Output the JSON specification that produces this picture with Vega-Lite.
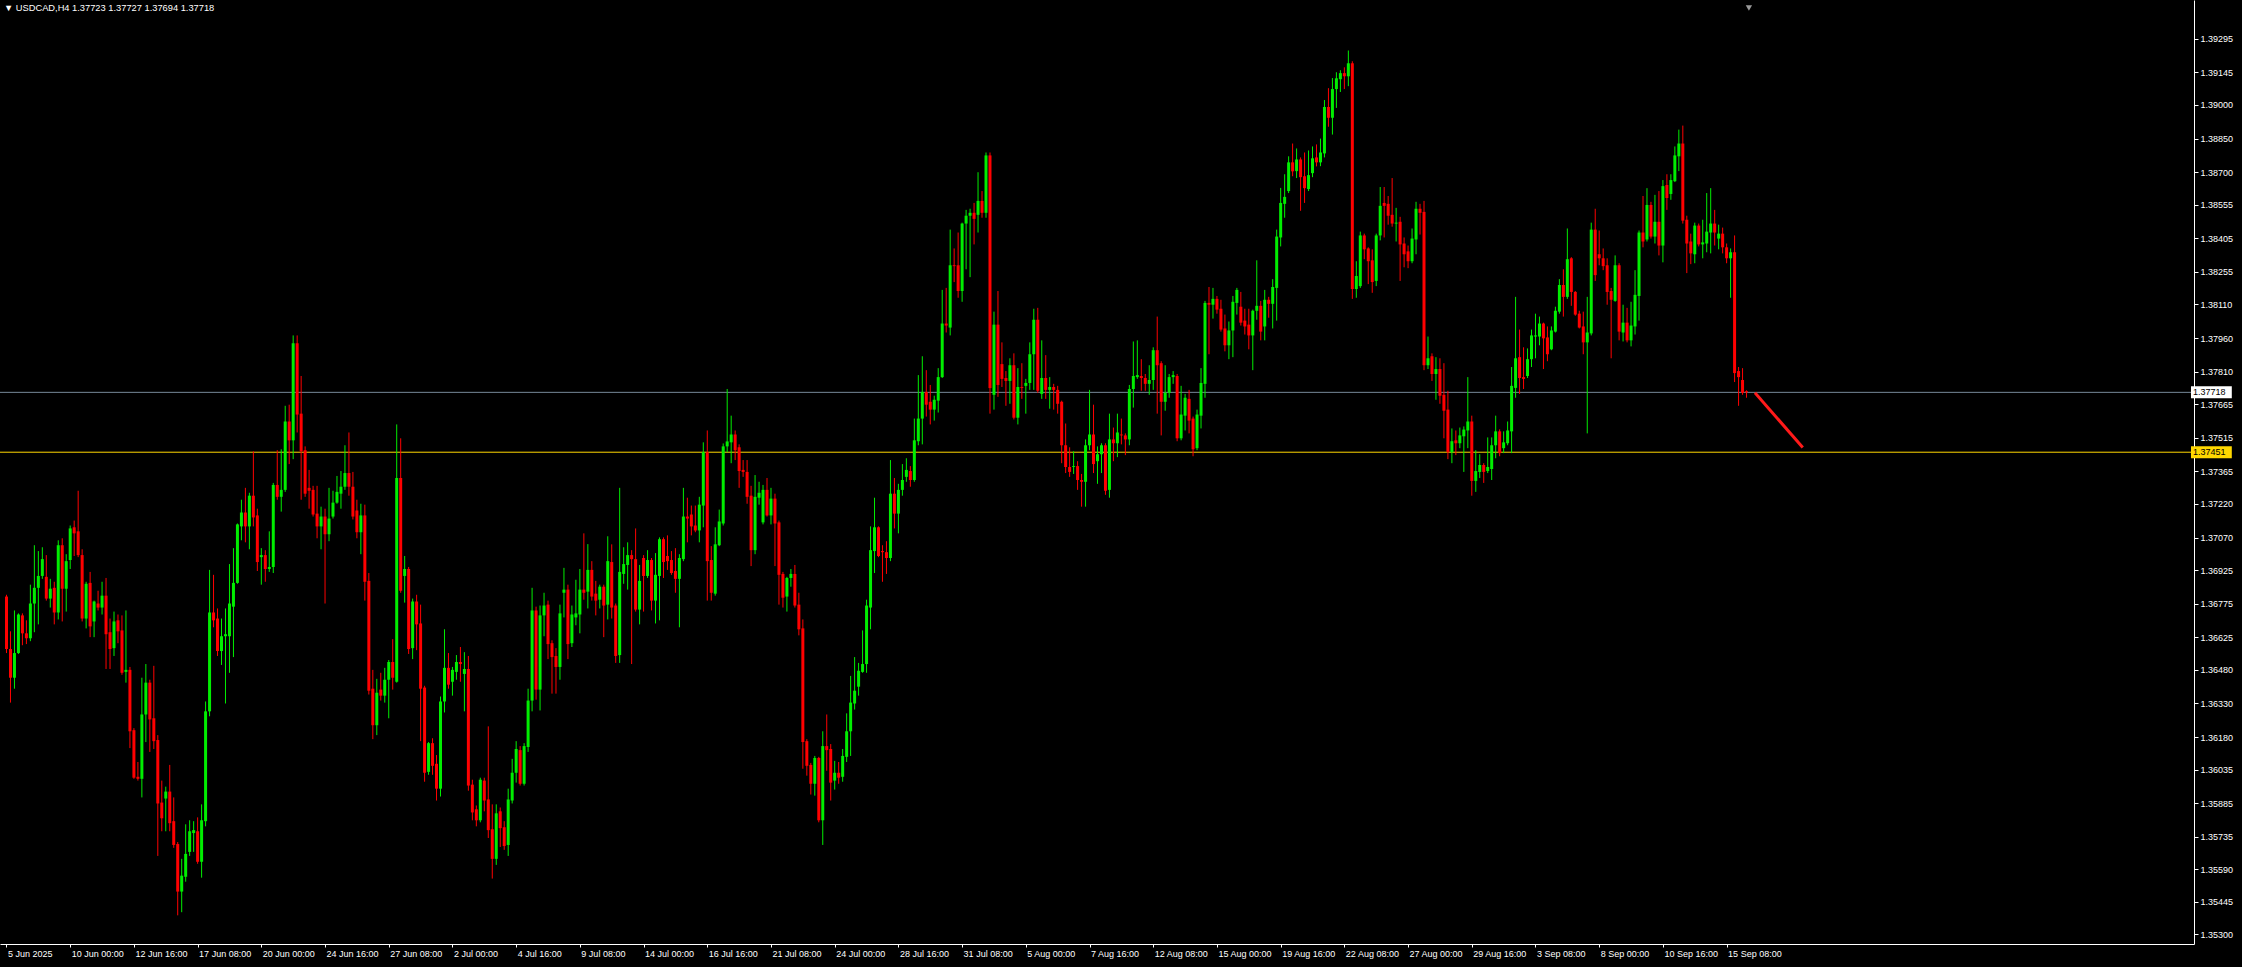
{
"$schema":"https://vega.github.io/schema/vega-lite/v6.json",
"width":2194,"height":944,
"autosize":{"type":"none"},
"padding":{"left":0,"top":0,"right":48,"bottom":23},
"background":"#000000",
"config":{"view":{"stroke":null},"font":"Liberation Sans","axis":{"labelOverlap":false,"labelFlush":false,"labelBound":false,"grid":false}},
"title":{"text":"▼ USDCAD,H4  1.37723 1.37727 1.37694 1.37718","anchor":"start","frame":"group","orient":"top","offset":-20,"baseline":"alphabetic","dx":4,"color":"#ffffff","font":"Liberation Sans","fontSize":9.3,"fontWeight":"normal"},
"datasets":{
"candles":[
{"i":0,"o":1.36807,"h":1.36815,"l":1.36555,"c":1.36573},
{"i":1,"o":1.36573,"h":1.36652,"l":1.36334,"c":1.36445},
{"i":2,"o":1.36445,"h":1.36745,"l":1.36396,"c":1.36555},
{"i":3,"o":1.36555,"h":1.36732,"l":1.36551,"c":1.36727},
{"i":4,"o":1.36723,"h":1.36732,"l":1.36590,"c":1.36643},
{"i":5,"o":1.36643,"h":1.36701,"l":1.36595,"c":1.36621},
{"i":6,"o":1.36621,"h":1.36860,"l":1.36608,"c":1.36776},
{"i":7,"o":1.36776,"h":1.37036,"l":1.36648,"c":1.36846},
{"i":8,"o":1.36846,"h":1.37010,"l":1.36683,"c":1.36899},
{"i":9,"o":1.36899,"h":1.37027,"l":1.36886,"c":1.36974},
{"i":10,"o":1.36895,"h":1.36992,"l":1.36789,"c":1.36798},
{"i":11,"o":1.36798,"h":1.36886,"l":1.36758,"c":1.36842},
{"i":12,"o":1.36846,"h":1.36873,"l":1.36683,"c":1.36736},
{"i":13,"o":1.36736,"h":1.37058,"l":1.36705,"c":1.37036},
{"i":14,"o":1.37036,"h":1.37067,"l":1.36696,"c":1.36842},
{"i":15,"o":1.36842,"h":1.36996,"l":1.36740,"c":1.36965},
{"i":16,"o":1.36970,"h":1.37124,"l":1.36930,"c":1.37111},
{"i":17,"o":1.37116,"h":1.37146,"l":1.36988,"c":1.37089},
{"i":18,"o":1.37098,"h":1.37279,"l":1.36983,"c":1.36992},
{"i":19,"o":1.36992,"h":1.37018,"l":1.36696,"c":1.36709},
{"i":20,"o":1.36709,"h":1.36873,"l":1.36665,"c":1.36864},
{"i":21,"o":1.36868,"h":1.36917,"l":1.36626,"c":1.36674},
{"i":22,"o":1.36696,"h":1.36789,"l":1.36626,"c":1.36785},
{"i":23,"o":1.36776,"h":1.36833,"l":1.36745,"c":1.36758},
{"i":24,"o":1.36758,"h":1.36873,"l":1.36727,"c":1.36811},
{"i":25,"o":1.36811,"h":1.36890,"l":1.36484,"c":1.36639},
{"i":26,"o":1.36648,"h":1.36709,"l":1.36484,"c":1.36573},
{"i":27,"o":1.36577,"h":1.36740,"l":1.36542,"c":1.36696},
{"i":28,"o":1.36701,"h":1.36727,"l":1.36599,"c":1.36652},
{"i":29,"o":1.36656,"h":1.36723,"l":1.36458,"c":1.36467},
{"i":30,"o":1.36471,"h":1.36745,"l":1.36423,"c":1.36480},
{"i":31,"o":1.36480,"h":1.36493,"l":1.36131,"c":1.36206},
{"i":32,"o":1.36211,"h":1.36220,"l":1.35994,"c":1.35999},
{"i":33,"o":1.36003,"h":1.36069,"l":1.35986,"c":1.35994},
{"i":34,"o":1.35994,"h":1.36445,"l":1.35911,"c":1.36281},
{"i":35,"o":1.36281,"h":1.36506,"l":1.36158,"c":1.36423},
{"i":36,"o":1.36423,"h":1.36436,"l":1.36114,"c":1.36259},
{"i":37,"o":1.36264,"h":1.36498,"l":1.36127,"c":1.36162},
{"i":38,"o":1.36167,"h":1.36189,"l":1.35650,"c":1.35884},
{"i":39,"o":1.35888,"h":1.35986,"l":1.35760,"c":1.35818},
{"i":40,"o":1.35906,"h":1.35959,"l":1.35760,"c":1.35937},
{"i":41,"o":1.35937,"h":1.36056,"l":1.35760,"c":1.35796},
{"i":42,"o":1.35805,"h":1.35911,"l":1.35686,"c":1.35699},
{"i":43,"o":1.35703,"h":1.35712,"l":1.35385,"c":1.35491},
{"i":44,"o":1.35491,"h":1.35637,"l":1.35399,"c":1.35562},
{"i":45,"o":1.35557,"h":1.35791,"l":1.35535,"c":1.35659},
{"i":46,"o":1.35668,"h":1.35809,"l":1.35650,"c":1.35760},
{"i":47,"o":1.35752,"h":1.35805,"l":1.35668,"c":1.35765},
{"i":48,"o":1.35760,"h":1.35822,"l":1.35615,"c":1.35624},
{"i":49,"o":1.35624,"h":1.35880,"l":1.35553,"c":1.35809},
{"i":50,"o":1.35805,"h":1.36339,"l":1.35782,"c":1.36295},
{"i":51,"o":1.36295,"h":1.36926,"l":1.36273,"c":1.36736},
{"i":52,"o":1.36736,"h":1.36904,"l":1.36670,"c":1.36701},
{"i":53,"o":1.36709,"h":1.36754,"l":1.36542,"c":1.36564},
{"i":54,"o":1.36564,"h":1.36709,"l":1.36502,"c":1.36630},
{"i":55,"o":1.36630,"h":1.36754,"l":1.36330,"c":1.36639},
{"i":56,"o":1.36630,"h":1.36952,"l":1.36467,"c":1.36776},
{"i":57,"o":1.36762,"h":1.37023,"l":1.36537,"c":1.36868},
{"i":58,"o":1.36868,"h":1.37133,"l":1.36864,"c":1.37129},
{"i":59,"o":1.37120,"h":1.37239,"l":1.37058,"c":1.37182},
{"i":60,"o":1.37182,"h":1.37292,"l":1.37049,"c":1.37120},
{"i":61,"o":1.37120,"h":1.37270,"l":1.37018,"c":1.37257},
{"i":62,"o":1.37257,"h":1.37455,"l":1.37120,"c":1.37160},
{"i":63,"o":1.37169,"h":1.37199,"l":1.36921,"c":1.36961},
{"i":64,"o":1.36983,"h":1.37023,"l":1.36860,"c":1.36992},
{"i":65,"o":1.36992,"h":1.37014,"l":1.36873,"c":1.36930},
{"i":66,"o":1.36930,"h":1.37098,"l":1.36917,"c":1.36939},
{"i":67,"o":1.36939,"h":1.37314,"l":1.36912,"c":1.37305},
{"i":68,"o":1.37305,"h":1.37460,"l":1.37239,"c":1.37252},
{"i":69,"o":1.37252,"h":1.37464,"l":1.37186,"c":1.37283},
{"i":70,"o":1.37283,"h":1.37658,"l":1.37274,"c":1.37588},
{"i":71,"o":1.37588,"h":1.37663,"l":1.37398,"c":1.37504},
{"i":72,"o":1.37504,"h":1.37972,"l":1.37420,"c":1.37937},
{"i":73,"o":1.37937,"h":1.37972,"l":1.37539,"c":1.37619},
{"i":74,"o":1.37623,"h":1.37791,"l":1.37239,"c":1.37455},
{"i":75,"o":1.37460,"h":1.37477,"l":1.37252,"c":1.37266},
{"i":76,"o":1.37292,"h":1.37372,"l":1.37199,"c":1.37279},
{"i":77,"o":1.37283,"h":1.37301,"l":1.37164,"c":1.37173},
{"i":78,"o":1.37177,"h":1.37301,"l":1.37067,"c":1.37120},
{"i":79,"o":1.37120,"h":1.37208,"l":1.37018,"c":1.37164},
{"i":80,"o":1.37164,"h":1.37199,"l":1.36776,"c":1.37085},
{"i":81,"o":1.37085,"h":1.37292,"l":1.37054,"c":1.37155},
{"i":82,"o":1.37164,"h":1.37279,"l":1.37155,"c":1.37226},
{"i":83,"o":1.37226,"h":1.37345,"l":1.37221,"c":1.37274},
{"i":84,"o":1.37266,"h":1.37367,"l":1.37199,"c":1.37297},
{"i":85,"o":1.37297,"h":1.37482,"l":1.37283,"c":1.37358},
{"i":86,"o":1.37358,"h":1.37539,"l":1.37257,"c":1.37297},
{"i":87,"o":1.37297,"h":1.37363,"l":1.37151,"c":1.37164},
{"i":88,"o":1.37191,"h":1.37239,"l":1.37067,"c":1.37094},
{"i":89,"o":1.37094,"h":1.37221,"l":1.36996,"c":1.37169},
{"i":90,"o":1.37169,"h":1.37217,"l":1.36789,"c":1.36873},
{"i":91,"o":1.36877,"h":1.36912,"l":1.36370,"c":1.36387},
{"i":92,"o":1.36396,"h":1.36480,"l":1.36171,"c":1.36233},
{"i":93,"o":1.36233,"h":1.36440,"l":1.36189,"c":1.36378},
{"i":94,"o":1.36392,"h":1.36467,"l":1.36343,"c":1.36365},
{"i":95,"o":1.36365,"h":1.36489,"l":1.36334,"c":1.36436},
{"i":96,"o":1.36436,"h":1.36524,"l":1.36264,"c":1.36515},
{"i":97,"o":1.36515,"h":1.36617,"l":1.36392,"c":1.36445},
{"i":98,"o":1.36427,"h":1.37575,"l":1.36423,"c":1.37336},
{"i":99,"o":1.37336,"h":1.37513,"l":1.36824,"c":1.36833},
{"i":100,"o":1.36899,"h":1.36988,"l":1.36780,"c":1.36930},
{"i":101,"o":1.36930,"h":1.36939,"l":1.36551,"c":1.36573},
{"i":102,"o":1.36577,"h":1.36798,"l":1.36528,"c":1.36785},
{"i":103,"o":1.36785,"h":1.36815,"l":1.36568,"c":1.36683},
{"i":104,"o":1.36687,"h":1.36771,"l":1.36162,"c":1.36396},
{"i":105,"o":1.36401,"h":1.36409,"l":1.35981,"c":1.36021},
{"i":106,"o":1.36025,"h":1.36158,"l":1.36012,"c":1.36153},
{"i":107,"o":1.36153,"h":1.36175,"l":1.36012,"c":1.36052},
{"i":108,"o":1.36061,"h":1.36100,"l":1.35897,"c":1.35950},
{"i":109,"o":1.35950,"h":1.36361,"l":1.35915,"c":1.36339},
{"i":110,"o":1.36339,"h":1.36661,"l":1.36290,"c":1.36489},
{"i":111,"o":1.36489,"h":1.36555,"l":1.36396,"c":1.36414},
{"i":112,"o":1.36427,"h":1.36493,"l":1.36365,"c":1.36480},
{"i":113,"o":1.36471,"h":1.36546,"l":1.36436,"c":1.36515},
{"i":114,"o":1.36515,"h":1.36582,"l":1.36427,"c":1.36506},
{"i":115,"o":1.36462,"h":1.36559,"l":1.36295,"c":1.36484},
{"i":116,"o":1.36484,"h":1.36542,"l":1.35941,"c":1.35964},
{"i":117,"o":1.35968,"h":1.35990,"l":1.35809,"c":1.35844},
{"i":118,"o":1.35858,"h":1.35875,"l":1.35782,"c":1.35809},
{"i":119,"o":1.35809,"h":1.35999,"l":1.35800,"c":1.35990},
{"i":120,"o":1.35986,"h":1.35999,"l":1.35849,"c":1.35897},
{"i":121,"o":1.35902,"h":1.36228,"l":1.35730,"c":1.35765},
{"i":122,"o":1.35769,"h":1.35880,"l":1.35549,"c":1.35637},
{"i":123,"o":1.35637,"h":1.35880,"l":1.35610,"c":1.35840},
{"i":124,"o":1.35849,"h":1.35866,"l":1.35690,"c":1.35774},
{"i":125,"o":1.35778,"h":1.35805,"l":1.35677,"c":1.35694},
{"i":126,"o":1.35699,"h":1.35950,"l":1.35650,"c":1.35902},
{"i":127,"o":1.35897,"h":1.36083,"l":1.35884,"c":1.36021},
{"i":128,"o":1.36021,"h":1.36162,"l":1.35977,"c":1.36127},
{"i":129,"o":1.36122,"h":1.36140,"l":1.35964,"c":1.35972},
{"i":130,"o":1.35972,"h":1.36153,"l":1.35964,"c":1.36140},
{"i":131,"o":1.36136,"h":1.36396,"l":1.36114,"c":1.36343},
{"i":132,"o":1.36343,"h":1.36846,"l":1.36295,"c":1.36745},
{"i":133,"o":1.36745,"h":1.36762,"l":1.36347,"c":1.36392},
{"i":134,"o":1.36392,"h":1.36767,"l":1.36299,"c":1.36723},
{"i":135,"o":1.36723,"h":1.36824,"l":1.36630,"c":1.36767},
{"i":136,"o":1.36771,"h":1.36789,"l":1.36528,"c":1.36595},
{"i":137,"o":1.36599,"h":1.36612,"l":1.36374,"c":1.36537},
{"i":138,"o":1.36542,"h":1.36577,"l":1.36374,"c":1.36493},
{"i":139,"o":1.36493,"h":1.36771,"l":1.36436,"c":1.36732},
{"i":140,"o":1.36824,"h":1.36935,"l":1.36714,"c":1.36838},
{"i":141,"o":1.36838,"h":1.36860,"l":1.36528,"c":1.36595},
{"i":142,"o":1.36599,"h":1.36767,"l":1.36582,"c":1.36727},
{"i":143,"o":1.36714,"h":1.36882,"l":1.36679,"c":1.36732},
{"i":144,"o":1.36727,"h":1.36930,"l":1.36643,"c":1.36838},
{"i":145,"o":1.36838,"h":1.37089,"l":1.36793,"c":1.36824},
{"i":146,"o":1.36829,"h":1.37041,"l":1.36754,"c":1.36926},
{"i":147,"o":1.36926,"h":1.36965,"l":1.36789,"c":1.36807},
{"i":148,"o":1.36820,"h":1.36877,"l":1.36723,"c":1.36789},
{"i":149,"o":1.36793,"h":1.36860,"l":1.36754,"c":1.36851},
{"i":150,"o":1.36851,"h":1.36860,"l":1.36626,"c":1.36767},
{"i":151,"o":1.36771,"h":1.37076,"l":1.36705,"c":1.36965},
{"i":152,"o":1.36961,"h":1.37040,"l":1.36709,"c":1.36758},
{"i":153,"o":1.36767,"h":1.36776,"l":1.36511,"c":1.36542},
{"i":154,"o":1.36546,"h":1.37292,"l":1.36511,"c":1.36917},
{"i":155,"o":1.36908,"h":1.37027,"l":1.36864,"c":1.36952},
{"i":156,"o":1.36948,"h":1.37049,"l":1.36838,"c":1.36992},
{"i":157,"o":1.36992,"h":1.37014,"l":1.36506,"c":1.36974},
{"i":158,"o":1.36974,"h":1.37111,"l":1.36740,"c":1.36749},
{"i":159,"o":1.36749,"h":1.36948,"l":1.36683,"c":1.36877},
{"i":160,"o":1.36979,"h":1.36992,"l":1.36740,"c":1.36899},
{"i":161,"o":1.36899,"h":1.37014,"l":1.36890,"c":1.36970},
{"i":162,"o":1.36970,"h":1.36979,"l":1.36745,"c":1.36789},
{"i":163,"o":1.36789,"h":1.37001,"l":1.36687,"c":1.36904},
{"i":164,"o":1.36899,"h":1.37071,"l":1.36701,"c":1.37063},
{"i":165,"o":1.37063,"h":1.37071,"l":1.36890,"c":1.36961},
{"i":166,"o":1.36988,"h":1.37080,"l":1.36926,"c":1.36965},
{"i":167,"o":1.36970,"h":1.37010,"l":1.36904,"c":1.36912},
{"i":168,"o":1.36921,"h":1.37023,"l":1.36824,"c":1.36886},
{"i":169,"o":1.36886,"h":1.36996,"l":1.36670,"c":1.36979},
{"i":170,"o":1.36974,"h":1.37292,"l":1.36965,"c":1.37164},
{"i":171,"o":1.37164,"h":1.37248,"l":1.37049,"c":1.37155},
{"i":172,"o":1.37173,"h":1.37213,"l":1.37080,"c":1.37120},
{"i":173,"o":1.37124,"h":1.37213,"l":1.37094,"c":1.37102},
{"i":174,"o":1.37102,"h":1.37252,"l":1.37049,"c":1.37217},
{"i":175,"o":1.37213,"h":1.37495,"l":1.37116,"c":1.37451},
{"i":176,"o":1.37451,"h":1.37548,"l":1.36789,"c":1.36965},
{"i":177,"o":1.36970,"h":1.37032,"l":1.36789,"c":1.36824},
{"i":178,"o":1.36820,"h":1.37116,"l":1.36811,"c":1.37040},
{"i":179,"o":1.37036,"h":1.37195,"l":1.37032,"c":1.37142},
{"i":180,"o":1.37133,"h":1.37490,"l":1.37124,"c":1.37477},
{"i":181,"o":1.37477,"h":1.37733,"l":1.37451,"c":1.37499},
{"i":182,"o":1.37495,"h":1.37614,"l":1.37402,"c":1.37530},
{"i":183,"o":1.37530,"h":1.37548,"l":1.37416,"c":1.37460},
{"i":184,"o":1.37473,"h":1.37486,"l":1.37292,"c":1.37367},
{"i":185,"o":1.37372,"h":1.37416,"l":1.37341,"c":1.37363},
{"i":186,"o":1.37363,"h":1.37416,"l":1.37221,"c":1.37252},
{"i":187,"o":1.37257,"h":1.37301,"l":1.36943,"c":1.37014},
{"i":188,"o":1.37014,"h":1.37349,"l":1.36996,"c":1.37252},
{"i":189,"o":1.37248,"h":1.37319,"l":1.37217,"c":1.37270},
{"i":190,"o":1.37138,"h":1.37305,"l":1.37129,"c":1.37283},
{"i":191,"o":1.37283,"h":1.37336,"l":1.37164,"c":1.37169},
{"i":192,"o":1.37169,"h":1.37292,"l":1.37129,"c":1.37244},
{"i":193,"o":1.37244,"h":1.37266,"l":1.36943,"c":1.37133},
{"i":194,"o":1.37138,"h":1.37146,"l":1.36771,"c":1.36904},
{"i":195,"o":1.36908,"h":1.36917,"l":1.36758,"c":1.36802},
{"i":196,"o":1.36807,"h":1.36895,"l":1.36740,"c":1.36890},
{"i":197,"o":1.36890,"h":1.36930,"l":1.36851,"c":1.36908},
{"i":198,"o":1.36908,"h":1.36948,"l":1.36758,"c":1.36767},
{"i":199,"o":1.36771,"h":1.36824,"l":1.36634,"c":1.36661},
{"i":200,"o":1.36665,"h":1.36705,"l":1.36039,"c":1.36158},
{"i":201,"o":1.36162,"h":1.36171,"l":1.36008,"c":1.36052},
{"i":202,"o":1.36056,"h":1.36065,"l":1.35924,"c":1.35972},
{"i":203,"o":1.35972,"h":1.36096,"l":1.35919,"c":1.36087},
{"i":204,"o":1.36087,"h":1.36092,"l":1.35800,"c":1.35809},
{"i":205,"o":1.35809,"h":1.36206,"l":1.35699,"c":1.36140},
{"i":206,"o":1.36140,"h":1.36281,"l":1.36030,"c":1.36122},
{"i":207,"o":1.36127,"h":1.36149,"l":1.35897,"c":1.35977},
{"i":208,"o":1.35986,"h":1.36074,"l":1.35946,"c":1.36021},
{"i":209,"o":1.36021,"h":1.36069,"l":1.35972,"c":1.35999},
{"i":210,"o":1.36003,"h":1.36127,"l":1.35981,"c":1.36096},
{"i":211,"o":1.36092,"h":1.36286,"l":1.36069,"c":1.36206},
{"i":212,"o":1.36206,"h":1.36453,"l":1.36096,"c":1.36334},
{"i":213,"o":1.36330,"h":1.36537,"l":1.36303,"c":1.36387},
{"i":214,"o":1.36405,"h":1.36511,"l":1.36365,"c":1.36476},
{"i":215,"o":1.36471,"h":1.36656,"l":1.36467,"c":1.36506},
{"i":216,"o":1.36506,"h":1.36793,"l":1.36467,"c":1.36767},
{"i":217,"o":1.36758,"h":1.37120,"l":1.36661,"c":1.37014},
{"i":218,"o":1.37010,"h":1.37248,"l":1.36912,"c":1.37116},
{"i":219,"o":1.37116,"h":1.37120,"l":1.36983,"c":1.36988},
{"i":220,"o":1.37010,"h":1.37036,"l":1.36873,"c":1.37005},
{"i":221,"o":1.37005,"h":1.37054,"l":1.36908,"c":1.36979},
{"i":222,"o":1.36979,"h":1.37416,"l":1.36965,"c":1.37266},
{"i":223,"o":1.37266,"h":1.37336,"l":1.37111,"c":1.37177},
{"i":224,"o":1.37177,"h":1.37310,"l":1.37089,"c":1.37283},
{"i":225,"o":1.37283,"h":1.37398,"l":1.37257,"c":1.37327},
{"i":226,"o":1.37341,"h":1.37424,"l":1.37319,"c":1.37372},
{"i":227,"o":1.37367,"h":1.37389,"l":1.37297,"c":1.37327},
{"i":228,"o":1.37327,"h":1.37601,"l":1.37319,"c":1.37504},
{"i":229,"o":1.37500,"h":1.37795,"l":1.37482,"c":1.37601},
{"i":230,"o":1.37601,"h":1.37879,"l":1.37486,"c":1.37720},
{"i":231,"o":1.37720,"h":1.37817,"l":1.37610,"c":1.37663},
{"i":232,"o":1.37676,"h":1.37751,"l":1.37575,"c":1.37641},
{"i":233,"o":1.37641,"h":1.37703,"l":1.37592,"c":1.37685},
{"i":234,"o":1.37681,"h":1.37826,"l":1.37628,"c":1.37786},
{"i":235,"o":1.37786,"h":1.38175,"l":1.37782,"c":1.38025},
{"i":236,"o":1.38025,"h":1.38184,"l":1.37985,"c":1.38016},
{"i":237,"o":1.38007,"h":1.38444,"l":1.37972,"c":1.38285},
{"i":238,"o":1.38285,"h":1.38360,"l":1.38210,"c":1.38281},
{"i":239,"o":1.38285,"h":1.38431,"l":1.38140,"c":1.38170},
{"i":240,"o":1.38170,"h":1.38475,"l":1.38122,"c":1.38471},
{"i":241,"o":1.38471,"h":1.38532,"l":1.38267,"c":1.38506},
{"i":242,"o":1.38506,"h":1.38537,"l":1.38232,"c":1.38519},
{"i":243,"o":1.38519,"h":1.38563,"l":1.38378,"c":1.38492},
{"i":244,"o":1.38510,"h":1.38700,"l":1.38431,"c":1.38572},
{"i":245,"o":1.38572,"h":1.38616,"l":1.38497,"c":1.38519},
{"i":246,"o":1.38519,"h":1.38788,"l":1.38497,"c":1.38775},
{"i":247,"o":1.38775,"h":1.38788,"l":1.37623,"c":1.37737},
{"i":248,"o":1.37707,"h":1.38078,"l":1.37641,"c":1.38020},
{"i":249,"o":1.38020,"h":1.38170,"l":1.37698,"c":1.37751},
{"i":250,"o":1.37844,"h":1.37941,"l":1.37742,"c":1.37778},
{"i":251,"o":1.37782,"h":1.37813,"l":1.37658,"c":1.37769},
{"i":252,"o":1.37769,"h":1.37870,"l":1.37667,"c":1.37839},
{"i":253,"o":1.37839,"h":1.37892,"l":1.37597,"c":1.37605},
{"i":254,"o":1.37605,"h":1.37826,"l":1.37575,"c":1.37742},
{"i":255,"o":1.37742,"h":1.37848,"l":1.37689,"c":1.37738},
{"i":256,"o":1.37747,"h":1.37778,"l":1.37623,"c":1.37760},
{"i":257,"o":1.37760,"h":1.37941,"l":1.37729,"c":1.37888},
{"i":258,"o":1.37888,"h":1.38091,"l":1.37729,"c":1.38042},
{"i":259,"o":1.38042,"h":1.38095,"l":1.37716,"c":1.37725},
{"i":260,"o":1.37711,"h":1.37950,"l":1.37689,"c":1.37782},
{"i":261,"o":1.37782,"h":1.37884,"l":1.37689,"c":1.37729},
{"i":262,"o":1.37729,"h":1.37786,"l":1.37645,"c":1.37742},
{"i":263,"o":1.37742,"h":1.37756,"l":1.37641,"c":1.37729},
{"i":264,"o":1.37729,"h":1.37747,"l":1.37623,"c":1.37667},
{"i":265,"o":1.37676,"h":1.37681,"l":1.37402,"c":1.37482},
{"i":266,"o":1.37482,"h":1.37579,"l":1.37358,"c":1.37385},
{"i":267,"o":1.37385,"h":1.37473,"l":1.37341,"c":1.37363},
{"i":268,"o":1.37385,"h":1.37455,"l":1.37354,"c":1.37389},
{"i":269,"o":1.37389,"h":1.37411,"l":1.37283,"c":1.37327},
{"i":270,"o":1.37327,"h":1.37354,"l":1.37208,"c":1.37319},
{"i":271,"o":1.37319,"h":1.37508,"l":1.37208,"c":1.37482},
{"i":272,"o":1.37482,"h":1.37729,"l":1.37460,"c":1.37530},
{"i":273,"o":1.37530,"h":1.37663,"l":1.37358,"c":1.37398},
{"i":274,"o":1.37411,"h":1.37477,"l":1.37310,"c":1.37442},
{"i":275,"o":1.37442,"h":1.37491,"l":1.37358,"c":1.37482},
{"i":276,"o":1.37482,"h":1.37491,"l":1.37261,"c":1.37279},
{"i":277,"o":1.37283,"h":1.37623,"l":1.37248,"c":1.37508},
{"i":278,"o":1.37508,"h":1.37561,"l":1.37411,"c":1.37491},
{"i":279,"o":1.37491,"h":1.37623,"l":1.37429,"c":1.37539},
{"i":280,"o":1.37530,"h":1.37601,"l":1.37486,"c":1.37526},
{"i":281,"o":1.37526,"h":1.37535,"l":1.37438,"c":1.37508},
{"i":282,"o":1.37508,"h":1.37751,"l":1.37482,"c":1.37733},
{"i":283,"o":1.37733,"h":1.37945,"l":1.37650,"c":1.37791},
{"i":284,"o":1.37786,"h":1.37950,"l":1.37778,"c":1.37795},
{"i":285,"o":1.37791,"h":1.37866,"l":1.37725,"c":1.37782},
{"i":286,"o":1.37782,"h":1.37800,"l":1.37725,"c":1.37756},
{"i":287,"o":1.37756,"h":1.37839,"l":1.37707,"c":1.37773},
{"i":288,"o":1.37773,"h":1.37919,"l":1.37729,"c":1.37906},
{"i":289,"o":1.37906,"h":1.38056,"l":1.37623,"c":1.37839},
{"i":290,"o":1.37848,"h":1.37857,"l":1.37526,"c":1.37676},
{"i":291,"o":1.37676,"h":1.37839,"l":1.37636,"c":1.37716},
{"i":292,"o":1.37716,"h":1.37800,"l":1.37694,"c":1.37786},
{"i":293,"o":1.37786,"h":1.37813,"l":1.37756,"c":1.37795},
{"i":294,"o":1.37791,"h":1.37800,"l":1.37500,"c":1.37513},
{"i":295,"o":1.37513,"h":1.37747,"l":1.37504,"c":1.37619},
{"i":296,"o":1.37614,"h":1.37711,"l":1.37548,"c":1.37694},
{"i":297,"o":1.37689,"h":1.37729,"l":1.37535,"c":1.37592},
{"i":298,"o":1.37601,"h":1.37610,"l":1.37433,"c":1.37464},
{"i":299,"o":1.37469,"h":1.37641,"l":1.37460,"c":1.37619},
{"i":300,"o":1.37614,"h":1.37826,"l":1.37557,"c":1.37760},
{"i":301,"o":1.37756,"h":1.38126,"l":1.37694,"c":1.38117},
{"i":302,"o":1.38117,"h":1.38188,"l":1.37888,"c":1.38109},
{"i":303,"o":1.38109,"h":1.38184,"l":1.38047,"c":1.38135},
{"i":304,"o":1.38135,"h":1.38148,"l":1.38069,"c":1.38087},
{"i":305,"o":1.38091,"h":1.38131,"l":1.37989,"c":1.37998},
{"i":306,"o":1.38003,"h":1.38065,"l":1.37901,"c":1.37928},
{"i":307,"o":1.37928,"h":1.38034,"l":1.37866,"c":1.37994},
{"i":308,"o":1.37994,"h":1.38148,"l":1.37875,"c":1.38122},
{"i":309,"o":1.38117,"h":1.38184,"l":1.38065,"c":1.38175},
{"i":310,"o":1.38100,"h":1.38166,"l":1.38016,"c":1.38029},
{"i":311,"o":1.38038,"h":1.38091,"l":1.37976,"c":1.38012},
{"i":312,"o":1.38020,"h":1.38091,"l":1.37910,"c":1.37972},
{"i":313,"o":1.37972,"h":1.38087,"l":1.37817,"c":1.38082},
{"i":314,"o":1.38082,"h":1.38307,"l":1.38042,"c":1.38104},
{"i":315,"o":1.38104,"h":1.38126,"l":1.37950,"c":1.37989},
{"i":316,"o":1.38012,"h":1.38175,"l":1.37950,"c":1.38131},
{"i":317,"o":1.38131,"h":1.38144,"l":1.38051,"c":1.38113},
{"i":318,"o":1.38113,"h":1.38223,"l":1.38003,"c":1.38188},
{"i":319,"o":1.38184,"h":1.38444,"l":1.38038,"c":1.38413},
{"i":320,"o":1.38409,"h":1.38630,"l":1.38369,"c":1.38563},
{"i":321,"o":1.38559,"h":1.38691,"l":1.38497,"c":1.38590},
{"i":322,"o":1.38616,"h":1.38771,"l":1.38607,"c":1.38744},
{"i":323,"o":1.38744,"h":1.38828,"l":1.38682,"c":1.38704},
{"i":324,"o":1.38705,"h":1.38806,"l":1.38674,"c":1.38757},
{"i":325,"o":1.38757,"h":1.38766,"l":1.38528,"c":1.38678},
{"i":326,"o":1.38682,"h":1.38788,"l":1.38563,"c":1.38629},
{"i":327,"o":1.38625,"h":1.38797,"l":1.38616,"c":1.38687},
{"i":328,"o":1.38696,"h":1.38815,"l":1.38678,"c":1.38762},
{"i":329,"o":1.38766,"h":1.38824,"l":1.38726,"c":1.38744},
{"i":330,"o":1.38744,"h":1.38850,"l":1.38727,"c":1.38788},
{"i":331,"o":1.38784,"h":1.39022,"l":1.38766,"c":1.38991},
{"i":332,"o":1.38991,"h":1.39075,"l":1.38903,"c":1.38943},
{"i":333,"o":1.38943,"h":1.39120,"l":1.38868,"c":1.39071},
{"i":334,"o":1.39071,"h":1.39146,"l":1.38987,"c":1.39119},
{"i":335,"o":1.39115,"h":1.39155,"l":1.39058,"c":1.39142},
{"i":336,"o":1.39142,"h":1.39168,"l":1.39071,"c":1.39128},
{"i":337,"o":1.39128,"h":1.39243,"l":1.39084,"c":1.39186},
{"i":338,"o":1.39186,"h":1.39195,"l":1.38135,"c":1.38179},
{"i":339,"o":1.38179,"h":1.38303,"l":1.38140,"c":1.38237},
{"i":340,"o":1.38192,"h":1.38435,"l":1.38184,"c":1.38418},
{"i":341,"o":1.38418,"h":1.38426,"l":1.38312,"c":1.38356},
{"i":342,"o":1.38360,"h":1.38365,"l":1.38201,"c":1.38303},
{"i":343,"o":1.38307,"h":1.38356,"l":1.38162,"c":1.38210},
{"i":344,"o":1.38215,"h":1.38426,"l":1.38192,"c":1.38418},
{"i":345,"o":1.38418,"h":1.38634,"l":1.38396,"c":1.38550},
{"i":346,"o":1.38563,"h":1.38634,"l":1.38409,"c":1.38550},
{"i":347,"o":1.38559,"h":1.38594,"l":1.38466,"c":1.38506},
{"i":348,"o":1.38510,"h":1.38674,"l":1.38457,"c":1.38471},
{"i":349,"o":1.38471,"h":1.38541,"l":1.38391,"c":1.38475},
{"i":350,"o":1.38479,"h":1.38501,"l":1.38215,"c":1.38378},
{"i":351,"o":1.38382,"h":1.38409,"l":1.38276,"c":1.38334},
{"i":352,"o":1.38347,"h":1.38373,"l":1.38272,"c":1.38303},
{"i":353,"o":1.38303,"h":1.38449,"l":1.38294,"c":1.38404},
{"i":354,"o":1.38400,"h":1.38568,"l":1.38334,"c":1.38537},
{"i":355,"o":1.38537,"h":1.38559,"l":1.38422,"c":1.38519},
{"i":356,"o":1.38523,"h":1.38572,"l":1.37817,"c":1.37839},
{"i":357,"o":1.37839,"h":1.37967,"l":1.37822,"c":1.37870},
{"i":358,"o":1.37879,"h":1.37892,"l":1.37769,"c":1.37800},
{"i":359,"o":1.37800,"h":1.37875,"l":1.37685,"c":1.37822},
{"i":360,"o":1.37822,"h":1.37870,"l":1.37667,"c":1.37703},
{"i":361,"o":1.37707,"h":1.37848,"l":1.37513,"c":1.37636},
{"i":362,"o":1.37641,"h":1.37725,"l":1.37420,"c":1.37451},
{"i":363,"o":1.37451,"h":1.37557,"l":1.37402,"c":1.37500},
{"i":364,"o":1.37504,"h":1.37548,"l":1.37438,"c":1.37491},
{"i":365,"o":1.37491,"h":1.37561,"l":1.37469,"c":1.37526},
{"i":366,"o":1.37522,"h":1.37566,"l":1.37363,"c":1.37552},
{"i":367,"o":1.37548,"h":1.37786,"l":1.37469,"c":1.37588},
{"i":368,"o":1.37588,"h":1.37614,"l":1.37257,"c":1.37323},
{"i":369,"o":1.37323,"h":1.37460,"l":1.37274,"c":1.37367},
{"i":370,"o":1.37363,"h":1.37442,"l":1.37336,"c":1.37394},
{"i":371,"o":1.37394,"h":1.37402,"l":1.37314,"c":1.37363},
{"i":372,"o":1.37367,"h":1.37517,"l":1.37358,"c":1.37385},
{"i":373,"o":1.37376,"h":1.37517,"l":1.37327,"c":1.37482},
{"i":374,"o":1.37482,"h":1.37614,"l":1.37424,"c":1.37544},
{"i":375,"o":1.37544,"h":1.37553,"l":1.37433,"c":1.37447},
{"i":376,"o":1.37469,"h":1.37544,"l":1.37447,"c":1.37495},
{"i":377,"o":1.37491,"h":1.37588,"l":1.37482,"c":1.37548},
{"i":378,"o":1.37544,"h":1.37831,"l":1.37447,"c":1.37747},
{"i":379,"o":1.37738,"h":1.38144,"l":1.37694,"c":1.37870},
{"i":380,"o":1.37875,"h":1.37998,"l":1.37711,"c":1.37782},
{"i":381,"o":1.37786,"h":1.37919,"l":1.37733,"c":1.37778},
{"i":382,"o":1.37791,"h":1.37914,"l":1.37782,"c":1.37866},
{"i":383,"o":1.37866,"h":1.37998,"l":1.37831,"c":1.37972},
{"i":384,"o":1.37967,"h":1.38069,"l":1.37870,"c":1.37972},
{"i":385,"o":1.37967,"h":1.38056,"l":1.37928,"c":1.38025},
{"i":386,"o":1.38025,"h":1.38029,"l":1.37822,"c":1.37959},
{"i":387,"o":1.37963,"h":1.38012,"l":1.37857,"c":1.37888},
{"i":388,"o":1.37910,"h":1.38012,"l":1.37906,"c":1.37994},
{"i":389,"o":1.37989,"h":1.38100,"l":1.37985,"c":1.38082},
{"i":390,"o":1.38078,"h":1.38223,"l":1.38069,"c":1.38197},
{"i":391,"o":1.38197,"h":1.38267,"l":1.38056,"c":1.38144},
{"i":392,"o":1.38144,"h":1.38449,"l":1.38135,"c":1.38312},
{"i":393,"o":1.38316,"h":1.38321,"l":1.38104,"c":1.38166},
{"i":394,"o":1.38166,"h":1.38170,"l":1.38060,"c":1.38065},
{"i":395,"o":1.38069,"h":1.38082,"l":1.38003,"c":1.38007},
{"i":396,"o":1.38012,"h":1.38078,"l":1.37888,"c":1.37941},
{"i":397,"o":1.37941,"h":1.38144,"l":1.37535,"c":1.37985},
{"i":398,"o":1.37981,"h":1.38475,"l":1.37972,"c":1.38444},
{"i":399,"o":1.38444,"h":1.38537,"l":1.38215,"c":1.38241},
{"i":400,"o":1.38334,"h":1.38440,"l":1.38285,"c":1.38316},
{"i":401,"o":1.38316,"h":1.38360,"l":1.38263,"c":1.38281},
{"i":402,"o":1.38285,"h":1.38316,"l":1.38109,"c":1.38166},
{"i":403,"o":1.38170,"h":1.38184,"l":1.37870,"c":1.38131},
{"i":404,"o":1.38126,"h":1.38329,"l":1.38122,"c":1.38285},
{"i":405,"o":1.38285,"h":1.38294,"l":1.37950,"c":1.37989},
{"i":406,"o":1.37985,"h":1.38109,"l":1.37945,"c":1.38029},
{"i":407,"o":1.38029,"h":1.38095,"l":1.37941,"c":1.37950},
{"i":408,"o":1.37950,"h":1.38122,"l":1.37923,"c":1.38016},
{"i":409,"o":1.38012,"h":1.38263,"l":1.37976,"c":1.38153},
{"i":410,"o":1.38148,"h":1.38440,"l":1.38038,"c":1.38431},
{"i":411,"o":1.38431,"h":1.38594,"l":1.38365,"c":1.38391},
{"i":412,"o":1.38400,"h":1.38629,"l":1.38391,"c":1.38554},
{"i":413,"o":1.38554,"h":1.38568,"l":1.38404,"c":1.38413},
{"i":414,"o":1.38413,"h":1.38599,"l":1.38382,"c":1.38479},
{"i":415,"o":1.38479,"h":1.38616,"l":1.38329,"c":1.38373},
{"i":416,"o":1.38373,"h":1.38665,"l":1.38298,"c":1.38638},
{"i":417,"o":1.38643,"h":1.38691,"l":1.38532,"c":1.38585},
{"i":418,"o":1.38603,"h":1.38691,"l":1.38577,"c":1.38665},
{"i":419,"o":1.38660,"h":1.38815,"l":1.38656,"c":1.38775},
{"i":420,"o":1.38771,"h":1.38890,"l":1.38705,"c":1.38828},
{"i":421,"o":1.38828,"h":1.38908,"l":1.38471,"c":1.38484},
{"i":422,"o":1.38488,"h":1.38506,"l":1.38250,"c":1.38382},
{"i":423,"o":1.38391,"h":1.38426,"l":1.38290,"c":1.38338},
{"i":424,"o":1.38334,"h":1.38475,"l":1.38294,"c":1.38462},
{"i":425,"o":1.38462,"h":1.38471,"l":1.38369,"c":1.38378},
{"i":426,"o":1.38378,"h":1.38488,"l":1.38316,"c":1.38387},
{"i":427,"o":1.38382,"h":1.38607,"l":1.38343,"c":1.38435},
{"i":428,"o":1.38431,"h":1.38629,"l":1.38338,"c":1.38471},
{"i":429,"o":1.38471,"h":1.38532,"l":1.38373,"c":1.38431},
{"i":430,"o":1.38404,"h":1.38466,"l":1.38356,"c":1.38426},
{"i":431,"o":1.38426,"h":1.38453,"l":1.38338,"c":1.38365},
{"i":432,"o":1.38365,"h":1.38382,"l":1.38294,"c":1.38316},
{"i":433,"o":1.38316,"h":1.38360,"l":1.38140,"c":1.38343},
{"i":434,"o":1.38343,"h":1.38418,"l":1.37764,"c":1.37804},
{"i":435,"o":1.37813,"h":1.37831,"l":1.37658,"c":1.37786},
{"i":436,"o":1.37773,"h":1.37826,"l":1.37707,"c":1.37716},
{"i":437,"o":1.37723,"h":1.37727,"l":1.37694,"c":1.37718}
],
"projection":[{"i":439.375,"p":1.37711},{"i":450.875,"p":1.37477}],
"shift":[{"i":437.6,"p":1.39433}]
},
"layer":[
{"data":{"values":[{"p":1.37718}]},
 "mark":{"type":"rule","color":"#778899","strokeWidth":1},
 "encoding":{"y":{"field":"p","type":"quantitative","title":null,"scale":{"domain":[1.352794,1.39446],"nice":false,"zero":false},
   "axis":{"orient":"right","tickCount":200,"values":[1.39295,1.39145,1.39,1.3885,1.387,1.38555,1.38405,1.38255,1.3811,1.3796,1.3781,1.37665,1.37515,1.37365,1.3722,1.3707,1.36925,1.36775,1.36625,1.3648,1.3633,1.3618,1.36035,1.35885,1.35735,1.3559,1.35445,1.353],
    "format":".5f","labelAlign":"left","labelBaseline":"middle","labelPadding":2,"labelColor":"#ffffff","labelFont":"Liberation Sans","labelFontSize":9,
    "tickColor":"#ffffff","tickSize":4,"domainColor":"#ffffff","grid":false,"title":null,"labelOverlap":false,"labelFlush":false,"labelBound":false}}}},
{"data":{"values":[{"p":1.37451}]},
 "mark":{"type":"rule","color":"#FFD700","strokeWidth":1},
 "encoding":{"y":{"field":"p","type":"quantitative","title":null}}},
{"data":{"name":"candles"},
 "mark":{"type":"rule","strokeWidth":1},
 "encoding":{
  "x":{"field":"i","type":"quantitative","title":null,"scale":{"domain":[-0.375,548.125],"nice":false,"zero":false},
   "axis":{"tickCount":200,"values":[0,16,32,48,64,80,96,112,128,144,160,176,192,208,224,240,256,272,288,304,320,336,352,368,384,400,416,432],
    "labelExpr":"['5 Jun 2025','10 Jun 00:00','12 Jun 16:00','17 Jun 08:00','20 Jun 00:00','24 Jun 16:00','27 Jun 08:00','2 Jul 00:00','4 Jul 16:00','9 Jul 08:00','14 Jul 00:00','16 Jul 16:00','21 Jul 08:00','24 Jul 00:00','28 Jul 16:00','31 Jul 08:00','5 Aug 00:00','7 Aug 16:00','12 Aug 08:00','15 Aug 00:00','19 Aug 16:00','22 Aug 08:00','27 Aug 00:00','29 Aug 16:00','3 Sep 08:00','8 Sep 00:00','10 Sep 16:00','15 Sep 08:00'][round(datum.value/16)]",
    "labelAlign":"left","labelBaseline":"top","labelPadding":2,"labelOffset":1,"labelColor":"#ffffff","labelFont":"Liberation Sans","labelFontSize":9,
    "tickColor":"#ffffff","tickSize":3,"domainColor":"#ffffff","grid":false,"title":null,"labelOverlap":false,"labelFlush":false,"labelBound":false}},
  "y":{"field":"l","type":"quantitative","title":null},
  "y2":{"field":"h"},
  "color":{"condition":{"test":"datum.c >= datum.o","value":"#00ee00"},"value":"#ff0000"}}},
{"data":{"name":"candles"},
 "mark":{"type":"bar","size":3},
 "encoding":{
  "x":{"field":"i","type":"quantitative","title":null},
  "y":{"field":"o","type":"quantitative","title":null},
  "y2":{"field":"c"},
  "color":{"condition":{"test":"datum.c >= datum.o","value":"#00ee00"},"value":"#ff0000"}}},
{"data":{"name":"projection"},
 "mark":{"type":"line","color":"#ff1a1a","strokeWidth":3,"strokeCap":"square"},
 "encoding":{"x":{"field":"i","type":"quantitative","title":null},"y":{"field":"p","type":"quantitative","title":null}}},
{"data":{"name":"shift"},
 "mark":{"type":"point","shape":"triangle-down","filled":true,"size":40,"color":"#9a9a9a","opacity":1},
 "encoding":{"x":{"field":"i","type":"quantitative","title":null},"y":{"field":"p","type":"quantitative","title":null}}},
{"data":{"values":[{"p":1.37718}]},
 "mark":{"type":"bar","orient":"horizontal","size":12,"color":"#ffffff"},
 "encoding":{"y":{"field":"p","type":"quantitative","title":null},"x":{"datum":548.625,"type":"quantitative"},"x2":{"datum":558.875}}},
{"data":{"values":[{"p":1.37451}]},
 "mark":{"type":"bar","orient":"horizontal","size":12,"color":"#FFD700"},
 "encoding":{"y":{"field":"p","type":"quantitative","title":null},"x":{"datum":548.625,"type":"quantitative"},"x2":{"datum":558.875}}},
{"data":{"values":[{"p":1.37718},{"p":1.37451}]},
 "mark":{"type":"text","align":"left","baseline":"middle","color":"#000000","font":"Liberation Sans","fontSize":9},
 "encoding":{"y":{"field":"p","type":"quantitative","title":null},"x":{"datum":549.1,"type":"quantitative"},"text":{"field":"p","type":"quantitative","format":".5f"}}}
]
}
